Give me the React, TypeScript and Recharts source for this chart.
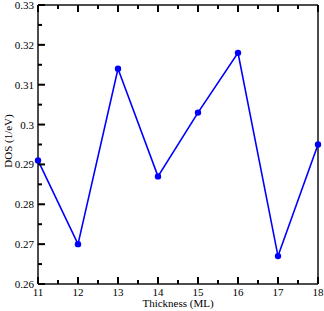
import React from 'react';
import { LineChart, Line, XAxis, YAxis } from 'recharts';

const thickness = [11, 12, 13, 14, 15, 16, 17, 18];
const dos = [0.291, 0.27, 0.314, 0.287, 0.303, 0.318, 0.267, 0.295];
const xTicks = [11, 11.5, 12, 12.5, 13, 13.5, 14, 14.5, 15, 15.5, 16, 16.5, 17, 17.5, 18];
const yTicks = [0.26, 0.265, 0.27, 0.275, 0.28, 0.285, 0.29, 0.295, 0.3, 0.305, 0.31, 0.315, 0.32, 0.325, 0.33];
const yLabels = ['0.26', '0.27', '0.28', '0.29', '0.3', '0.31', '0.32', '0.33'];
const xLabel = 'Thickness (ML)';
const yLabel = 'DOS (1/eV)';

const data = thickness.map((t, i) => ({ t, dos: dos[i] }));

const FONT = '"Liberation Serif", "Times New Roman", serif';
const AXIS = '#000';
const MAJOR = 7;
const MINOR = 4;
const TW = 2;

const isIntX = (v: number) => Math.abs(v - Math.round(v)) < 1e-6;
const isMajorY = (v: number) => Math.abs(v * 100 - Math.round(v * 100)) < 1e-6;
const yText = (v: number) => yLabels[Math.round(v * 100) - 26];

const renderBottomTick = (props: any) => {
  const { x, y, payload, index } = props;
  const v = payload.value;
  const major = isIntX(v);
  const len = major ? MAJOR : MINOR;
  return (
    <g key={`b-${index}`}>
      <rect x={x - TW / 2} y={y - len} width={TW} height={len} fill={AXIS} />
      {major && (
        <text x={x} y={y + 12} textAnchor="middle" fontFamily={FONT} fontSize={11} fill="#000">
          {String(v)}
        </text>
      )}
    </g>
  );
};

const renderTopTick = (props: any) => {
  const { x, y, payload, index } = props;
  const len = isIntX(payload.value) ? MAJOR : MINOR;
  return (
    <g key={`t-${index}`}>
      <rect x={x - TW / 2} y={y} width={TW} height={len} fill={AXIS} />
    </g>
  );
};

const renderLeftTick = (props: any) => {
  const { x, y, payload, index } = props;
  const v = payload.value;
  const major = isMajorY(v);
  const len = major ? MAJOR : MINOR;
  return (
    <g key={`l-${index}`}>
      <rect x={x} y={y - TW / 2} width={len} height={TW} fill={AXIS} />
      {major && (
        <text x={x - 4} y={y + 4} textAnchor="end" fontFamily={FONT} fontSize={11} fill="#000">
          {yText(v)}
        </text>
      )}
    </g>
  );
};

const renderRightTick = (props: any) => {
  const { x, y, payload, index } = props;
  const len = isMajorY(payload.value) ? MAJOR : MINOR;
  return (
    <g key={`r-${index}`}>
      <rect x={x - len} y={y - TW / 2} width={len} height={TW} fill={AXIS} />
    </g>
  );
};

export default function App() {
  return (
    <div style={{ position: 'absolute', left: 0, top: 0, width: 324, height: 311, background: '#fff' }}>
      <LineChart width={324} height={311} data={data} margin={{ top: 4, right: 5, left: 37, bottom: 26 }}>
        <XAxis
          dataKey="t"
          type="number"
          domain={[11, 18]}
          ticks={xTicks}
          interval={0}
          height={1}
          tickSize={0}
          tickMargin={0}
          tickLine={false}
          tick={renderBottomTick}
          axisLine={{ stroke: '#111', strokeWidth: 1.5 }}
        />
        <XAxis
          xAxisId="top"
          orientation="top"
          dataKey="t"
          type="number"
          domain={[11, 18]}
          ticks={xTicks}
          interval={0}
          height={1}
          tickSize={0}
          tickMargin={0}
          tickLine={false}
          tick={renderTopTick}
          axisLine={{ stroke: '#111', strokeWidth: 1.5 }}
        />
        <YAxis
          type="number"
          domain={[0.26, 0.33]}
          ticks={yTicks}
          interval={0}
          width={1}
          tickSize={0}
          tickMargin={0}
          tickLine={false}
          tick={renderLeftTick}
          axisLine={{ stroke: '#111', strokeWidth: 1.5 }}
        />
        <YAxis
          yAxisId="right"
          orientation="right"
          type="number"
          domain={[0.26, 0.33]}
          ticks={yTicks}
          interval={0}
          width={1}
          tickSize={0}
          tickMargin={0}
          tickLine={false}
          tick={renderRightTick}
          axisLine={{ stroke: '#111', strokeWidth: 1.5 }}
        />
        <Line
          type="linear"
          dataKey="dos"
          stroke="#0000ff"
          strokeWidth={1.6}
          dot={{ r: 3.2, fill: '#0000ff', stroke: '#0000ff', strokeWidth: 0 }}
          isAnimationActive={false}
        />
      </LineChart>
      <svg width={324} height={311} style={{ position: 'absolute', left: 0, top: 0, pointerEvents: 'none' }}>
        <text x={178} y={307} textAnchor="middle" fontFamily={FONT} fontSize={11} fill="#000">
          {xLabel}
        </text>
        <text
          x={0}
          y={0}
          transform="translate(12,141) rotate(-90)"
          textAnchor="middle"
          fontFamily={FONT}
          fontSize={11}
          fill="#000"
        >
          {yLabel}
        </text>
      </svg>
    </div>
  );
}
